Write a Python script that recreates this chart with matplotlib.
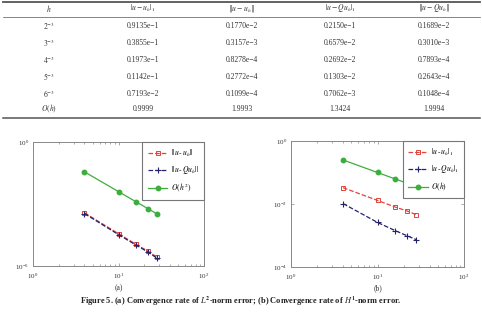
import matplotlib
matplotlib.use("Agg")
import matplotlib.pyplot as plt
from matplotlib.lines import Line2D
import matplotlib.ticker as mticker

plt.rcParams['font.family'] = ['Liberation Serif', 'DejaVu Serif']
plt.rcParams['mathtext.fontset'] = 'stix'

W, H = 482, 312

# ---------------- data ----------------
table_header = [r"$h$", r"$|u-u_h|_1$", r"$\|u-u_h\|$", r"$|u-Qu_h|_1$", r"$\|u-Qu_h\|$"]
h_labels = [r"$2^{-3}$", r"$3^{-3}$", r"$4^{-3}$", r"$5^{-3}$", r"$6^{-3}$"]
col_h1_uh = ["0.9135e\u22121", "0.3855e\u22121", "0.1973e\u22121", "0.1142e\u22121", "0.7193e\u22122"]
col_l2_uh = ["0.1770e\u22122", "0.3157e\u22123", "0.8278e\u22124", "0.2772e\u22124", "0.1099e\u22124"]
col_h1_quh = ["0.2150e\u22121", "0.6579e\u22122", "0.2692e\u22122", "0.1303e\u22122", "0.7062e\u22123"]
col_l2_quh = ["0.1689e\u22122", "0.3010e\u22123", "0.7893e\u22124", "0.2643e\u22124", "0.1048e\u22124"]
rate_label = r"$O(h)$"
rates = ["0.9999", "1.9993", "1.3424", "1.9994"]

n = [4, 10, 16, 22, 28]
# (a) L2-norm errors
l2_uh = [1.4e-3, 2.0e-4, 7.5e-5, 4.0e-5, 2.3e-5]
l2_quh = [1.3e-3, 1.85e-4, 7.0e-5, 3.7e-5, 2.1e-5]
l2_ref = [6.25e-2, 1.0e-2, 3.9e-3, 2.07e-3, 1.28e-3]
# (b) H1-norm errors
h1_uh = [3.3e-2, 1.3e-2, 8.0e-3, 6.0e-3, 4.6e-3]
h1_quh = [1.03e-2, 2.6e-3, 1.43e-3, 9.8e-4, 7.4e-4]
h1_ref = [0.25, 0.1, 0.0625, 0.0455, 0.0357]

fig = plt.figure(figsize=(W / 100, H / 100), dpi=100)
fig.patch.set_facecolor("white")

def fx(x):
    return x / W

def fy(y):
    return 1 - y / H

# ---------------- table ----------------
col_x = [49, 143, 242, 340, 434]
row_y = [26, 43, 60, 77, 94]
fs_tab = 5.5
tc = "#333333"
for cx, lab in zip(col_x, table_header):
    fig.text(fx(cx), fy(8), lab, ha="center", va="center", fontsize=fs_tab, color=tc)
cols = [h_labels, col_h1_uh, col_l2_uh, col_h1_quh, col_l2_quh]
for ci, col in enumerate(cols):
    for ri, val in enumerate(col):
        fig.text(fx(col_x[ci]), fy(row_y[ri]), val, ha="center", va="center",
                 fontsize=fs_tab, color=tc)
fig.text(fx(col_x[0]), fy(109), rate_label, ha="center", va="center", fontsize=fs_tab, color=tc)
for ci, r in enumerate(rates):
    fig.text(fx(col_x[ci + 1]), fy(109), r, ha="center", va="center", fontsize=fs_tab, color=tc)

for yy, lw in [(1.5, 1.3), (17, 0.5), (118, 1.1)]:
    fig.add_artist(Line2D([fx(3), fx(480)], [fy(yy), fy(yy)], color="#555555", lw=lw,
                          transform=fig.transFigure))

# ---------------- plots ----------------
red = "#e0443c"
blue = "#23236e"
green = "#3dae3d"
edge = "#888888"

def make_axes(rect, ylim, yticks):
    ax = fig.add_axes(rect)
    ax.set_xscale("log")
    ax.set_yscale("log")
    ax.set_xlim(1, 100)
    ax.set_ylim(*ylim)
    ax.set_xticks([1, 10, 100])
    ax.set_yticks(yticks)
    ax.xaxis.set_minor_locator(mticker.LogLocator(base=10, subs=range(2, 10), numticks=20))
    ax.yaxis.set_minor_locator(mticker.NullLocator())
    ax.xaxis.set_major_formatter(mticker.LogFormatterSciNotation())
    ax.yaxis.set_major_formatter(mticker.LogFormatterSciNotation())
    ax.tick_params(which="both", direction="in", top=True, right=True, colors=edge,
                   labelcolor="#333333", labelsize=5, width=0.5)
    ax.tick_params(which="major", length=2.5)
    ax.tick_params(which="minor", length=1.5)
    ax.tick_params(axis="x", pad=4)
    ax.tick_params(axis="y", pad=3)
    for s in ax.spines.values():
        s.set_color(edge)
        s.set_linewidth(0.7)
    return ax

axA = make_axes([fx(33), fy(266), fx(204 - 33), (266 - 142) / H], (1e-5, 1e0), [1e-5, 1e0])
axA.plot(n, l2_uh, "--", color=red, marker="s", ms=3.5, mfc="none", mew=0.7, lw=0.9,
         label=r"$||u\,\text{-}\,u_h||$")
axA.plot(n, l2_quh, "--", color=blue, marker="+", ms=5, mew=0.8, lw=0.9,
         label=r"$||u\,\text{-}\,Qu_h||$")
axA.plot(n, l2_ref, "-", color=green, marker="o", ms=3.2, lw=0.9,
         label=r"$O(h^2)$")

axB = make_axes([fx(291), fy(267), fx(464 - 291), (267 - 141) / H], (1e-4, 1e0), [1e-4, 1e-2, 1e0])
axB.plot(n, h1_uh, "--", color=red, marker="s", ms=3.5, mfc="none", mew=0.7, lw=0.9,
         label=r"$|u\,\text{-}\,u_h|_1$")
axB.plot(n, h1_quh, "--", color=blue, marker="+", ms=5, mew=0.8, lw=0.9,
         label=r"$|u\,\text{-}\,Qu_h|_1$")
axB.plot(n, h1_ref, "-", color=green, marker="o", ms=3.2, lw=0.9,
         label=r"$O(h)$")

for ax in (axA, axB):
    leg = ax.legend(loc="upper right", fontsize=5.5, frameon=True, fancybox=False,
                    framealpha=1.0, borderaxespad=0.0, handlelength=2.6, labelspacing=0.75,
                    borderpad=0.7, handletextpad=0.4)
    leg.get_frame().set_edgecolor("#777777")
    leg.get_frame().set_linewidth(0.8)

fig.text(fx(119), fy(288), "(a)", ha="center", va="center", fontsize=5.5, color="#333333")
fig.text(fx(378), fy(288), "(b)", ha="center", va="center", fontsize=5.5, color="#333333")
fig.text(0.5, fy(301),
         r"Figure 5. (a) Convergence rate of $\mathbf{\mathit{L}^2}$-norm error; (b) Convergence rate of $\mathbf{\mathit{H}^1}$-norm error.",
         ha="center", va="center", fontsize=6, fontweight="bold", color="#222222")

fig.savefig("out.png", dpi=100, facecolor="white")
